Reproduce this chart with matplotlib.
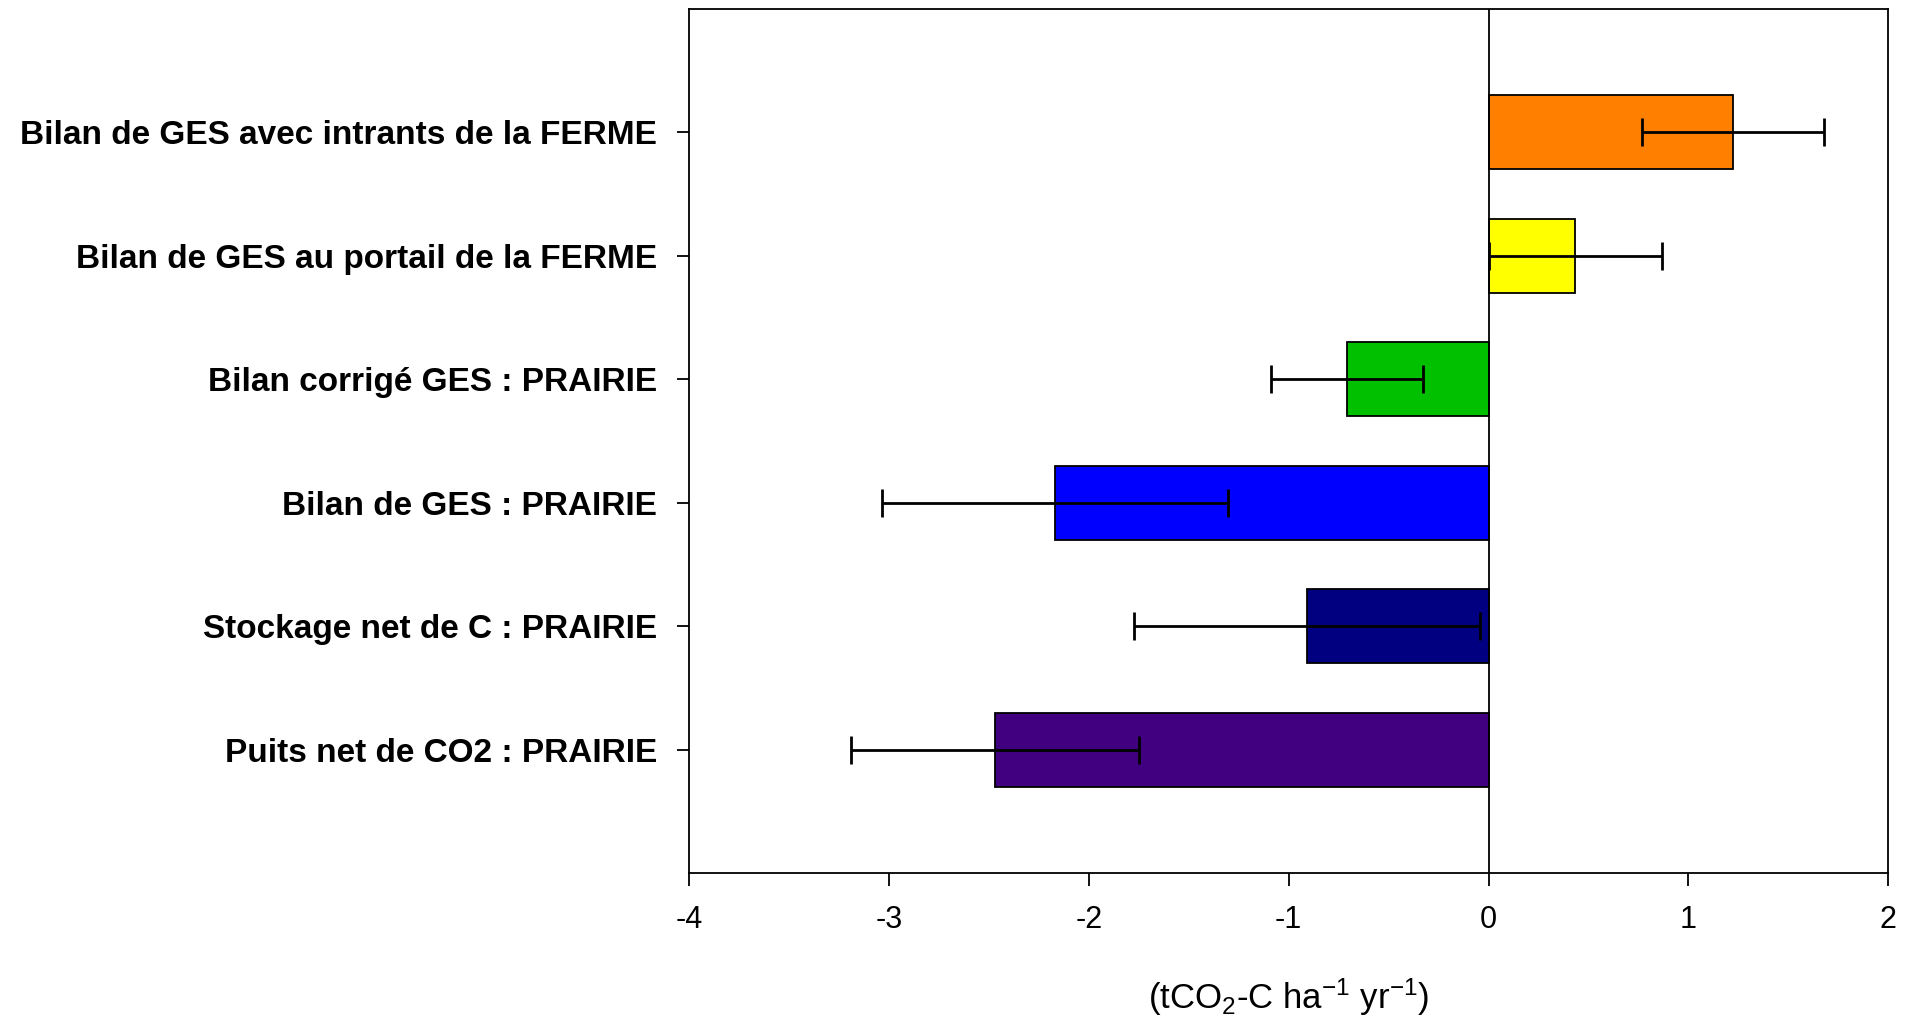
import numpy as np
import matplotlib.pyplot as plt

plt.rcParams['font.family'] = ['Liberation Sans', 'DejaVu Sans']
plt.rcParams['mathtext.default'] = 'regular'

# categories from bottom to top
categories = ['Puits net de CO2 : PRAIRIE',
              'Stockage net de C : PRAIRIE',
              'Bilan de GES : PRAIRIE',
              'Bilan corrigé GES : PRAIRIE',
              'Bilan de GES au portail de la FERME',
              'Bilan de GES avec intrants de la FERME']
values = [-2.47, -0.91, -2.17, -0.71, 0.435, 1.225]
errors = [0.72, 0.865, 0.865, 0.38, 0.435, 0.455]
colors = ['#400080', '#000080', '#0000FF', '#00C000', '#FFFF00', '#FF8000']

fig = plt.figure(figsize=(19.19, 10.25), dpi=100)
ax = fig.add_axes([0.359, 0.148, 0.625, 0.8436])

y = np.arange(len(categories))
ax.barh(y, values, height=0.6, color=colors, edgecolor='black', linewidth=1.3, zorder=2)
ax.errorbar(values, y, xerr=errors, fmt='none', ecolor='black', elinewidth=2,
            capsize=10, capthick=2, zorder=3)
ax.axvline(0, color='black', linewidth=1.3, zorder=4)

ax.set_xlim(-4, 2)
ax.set_ylim(-1, 6)
ax.set_xticks(np.arange(-4, 3, 1))
ax.set_xticklabels([str(v) for v in range(-4, 3)])
ax.set_yticks(y)
ax.set_yticklabels(categories, fontsize=24, fontweight='bold')
ax.tick_params(axis='x', labelsize=22, length=9, width=1.3, pad=14, direction='out')
ax.tick_params(axis='y', length=9, width=1.3, pad=14, direction='out')
for s in ax.spines.values():
    s.set_linewidth(1.3)

ax.set_xlabel(r'(tCO$_2$-C ha$^{-1}$ yr$^{-1}$)', fontsize=25, labelpad=30)

fig.savefig('out.png', dpi=100)
